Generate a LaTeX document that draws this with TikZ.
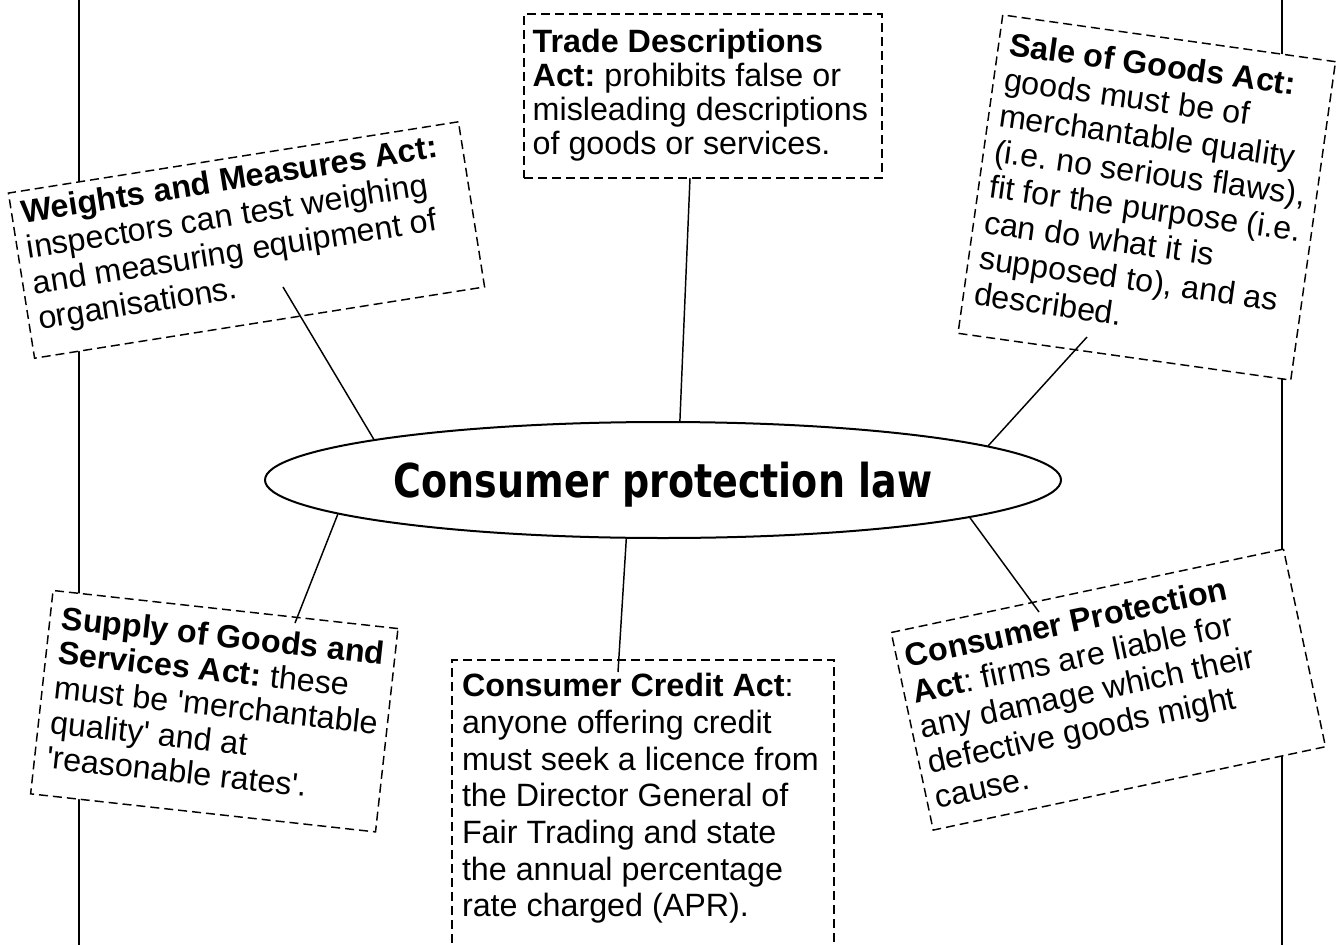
\documentclass[tikz,border=0pt]{standalone}
\usepackage{fontspec}
\setmainfont{Liberation Sans}
\newfontfamily\titlefont{DejaVu Sans}
\usetikzlibrary{shapes.geometric}
\frenchspacing
\newdimen\pxu \pxu=0.75pt
% #1 width px, #2 height px, #3 left pad px, #4 first baseline px, #5 baselineskip px, #6 text
\newcommand\actcontent[6]{%
  \parbox[c][#2\pxu][t]{#1\pxu}{%
    \fontsize{24.2pt}{#5\pxu}\selectfont
    \raggedright\leftskip=#3\pxu\relax\rightskip=-60pt plus 1fil\relax
    \vspace*{\dimexpr#4\pxu-\ht\strutbox\relax}%
    \strut#6\par}}
\begin{document}
\begin{tikzpicture}[x=0.75pt,y=-0.75pt,
  actbox/.style={draw, fill=white, line width=1.1pt, dash pattern=on 6.75pt off 3.75pt, inner sep=0pt, outer sep=0pt},
  rail/.style={line width=1.5pt},
  link/.style={line width=1.1pt},
  lawshape/.style={draw, ellipse, fill=white, line width=1.5pt, minimum width=597pt, minimum height=87pt, inner sep=0pt},
  lawtext/.style={font=\titlefont\bfseries\fontsize{35pt}{40pt}\selectfont, inner sep=0pt, anchor=base}
]
\useasboundingbox (0,0) rectangle (1337,945);
\clip (0,0) rectangle (1337,945);

% page rails
\draw[rail] (79,0) -- (79,945);
\draw[rail] (1282,0) -- (1282,945);

% boxes
\node[actbox] (trade) at (703,96)
  {\actcontent{358}{164}{8.7}{38.7}{34}{\textbf{Trade Descriptions}\\ \textbf{Act:} prohibits false or\\ misleading descriptions\\ of goods or services.}};

\node[actbox, rotate=9] (weights) at (246.5,240)
  {\actcontent{455.6}{167.2}{10}{32}{36}{\textbf{Weights and Measures Act:}\\ inspectors can test weighing\\ and measuring equipment of\\ organisations.}};

\node[actbox, rotate=-8] (sale) at (1146.75,197.5)
  {\actcontent{336}{321.5}{11}{39}{36}{\textbf{Sale of Goods Act:}\\ goods must be of\\ merchantable quality\\ (i.e. no serious flaws),\\ fit for the purpose (i.e.\\ can do what it is\\ supposed to), and as\\ described.}};

\node[actbox, rotate=-6.3] (supply) at (214.3,711.2)
  {\actcontent{347}{204.6}{12}{37.5}{35}{\textbf{Supply of Goods and}\\ \textbf{Services Act:} these\\ must be \textquotesingle merchantable\\ quality\textquotesingle{} and at\\ \textquotesingle reasonable rates\textquotesingle.}};

\node[actbox] (credit) at (643,820)
  {\actcontent{382}{320}{10}{36.7}{36.7}{\textbf{Consumer Credit Act}:\\ anyone offering credit\\ must seek a licence from\\ the Director General of\\ Fair Trading and state\\ the annual percentage\\ rate charged (APR).}};

\node[actbox, rotate=12] (protection) at (1108.35,689.6)
  {\actcontent{401}{202}{9}{38}{36}{\textbf{Consumer Protection}\\ \textbf{Act}: firms are liable for\\ any damage which their\\ defective goods might\\ cause.}};

% central ellipse
\node[lawshape] (law) at (663,480) {};
\node[lawtext] (lawlabel) at (663,497) {\scalebox{0.815}[1]{Consumer protection law}};

% connector ends inside the boxes
\coordinate (tradetip) at (690,178);
\coordinate (weightstip) at (283,287);
\coordinate (saletip) at (1087,337);
\coordinate (supplytip) at (295,623);
\coordinate (credittip) at (618,672);
\coordinate (protectiontip) at (1039,612);

\draw[link] (law.74.6) -- (tradetip);
\draw[link] (law.172.8) -- (weightstip);
\draw[link] (law.6.5) -- (saletip);
\draw[link] (law.186.9) -- (supplytip);
\draw[link] (law.238.9) -- (credittip);
\draw[link] (law.353.3) -- (protectiontip);
\end{tikzpicture}
\end{document}
